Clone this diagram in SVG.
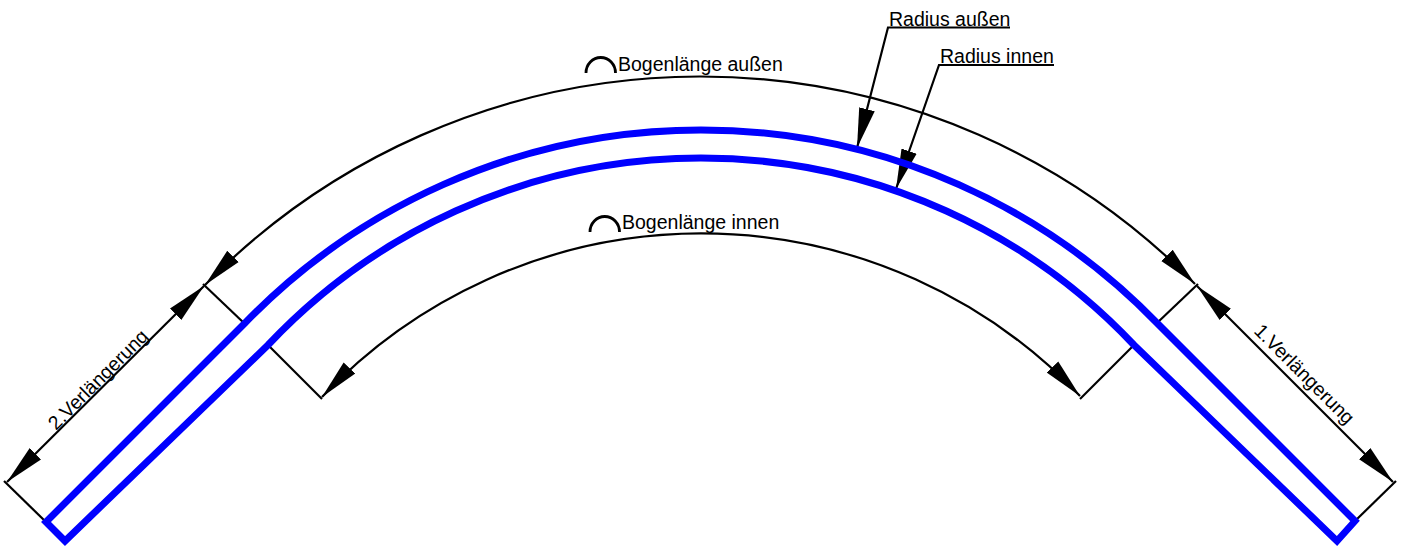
<svg xmlns="http://www.w3.org/2000/svg" width="1405" height="547" viewBox="0 0 1405 547">
<style>
.pipe{fill:none;stroke:#0000ff;stroke-width:7;stroke-linejoin:miter;stroke-linecap:square}
.l{fill:none;stroke:#000;stroke-width:2.200}
.a{fill:none;stroke:#000;stroke-width:2.200;marker-start:url(#ah);marker-end:url(#ah)}
.r{fill:none;stroke:#000;stroke-width:2.200;marker-end:url(#ah)}
.m{fill:none;stroke:#000;stroke-width:2.800}
text{font-family:"Liberation Sans",Arial,sans-serif;font-size:19.500px;fill:#000}
</style>
<defs>
<marker id="ah" markerUnits="userSpaceOnUse" markerWidth="42" markerHeight="20" refX="40" refY="10" orient="auto-start-reverse">
<path d="M0,2 L40,10 L0,18 Z" fill="#000"/>
</marker>
</defs>
<rect width="1405" height="547" fill="#fff"/>
<g id="connectors">
<path class="l" d="M203,284 L245,324"/>
<path class="l" d="M322,399 L268,345"/>
<path class="l" d="M4,481 L46,522"/>
<path class="l" d="M1198,284 L1157,323"/>
<path class="l" d="M1080,399 L1134,345"/>
<path class="l" d="M1396,481 L1355,521"/>
<path class="a" d="M205,285 A693,693 0 0 1 1195,284"/>
<path class="a" d="M322,397 A522,522 0 0 1 1080,396"/>
<path class="a" d="M204,286 L7,482"/>
<path class="a" d="M1197,286 L1393,482"/>
<path class="r" d="M1010,27.500 L888,27.500 L857,148"/>
<path class="r" d="M1054,65 L939,65 L896,189"/>
</g>
<g id="pipe">
<path class="pipe" d="M46,522 L245,323 A635,635 0 0 1 1157,323 L1355,521 L1337,541 L1134,345 A595,595 0 0 0 268,345 L65,541 Z"/>
</g>
<g id="label-bogen-aussen">
<path class="m" d="M586,73 A14.750,15.500 0 0 1 615.500,73"/>
<text x="618" y="70.500">Bogenlänge außen</text>
</g>
<g id="label-bogen-innen">
<path class="m" d="M590,232 A14.750,15.500 0 0 1 619.500,232"/>
<text x="622" y="228.500">Bogenlänge innen</text>
</g>
<g id="label-radius-aussen"><text x="889" y="25.500">Radius außen</text></g>
<g id="label-radius-innen"><text x="940" y="62.500">Radius innen</text></g>
<g id="label-verl-2"><text transform="translate(56,431) rotate(-45)">2.Verlängerung</text></g>
<g id="label-verl-1"><text transform="translate(1253,332) rotate(45)">1.Verlängerung</text></g>
</svg>
